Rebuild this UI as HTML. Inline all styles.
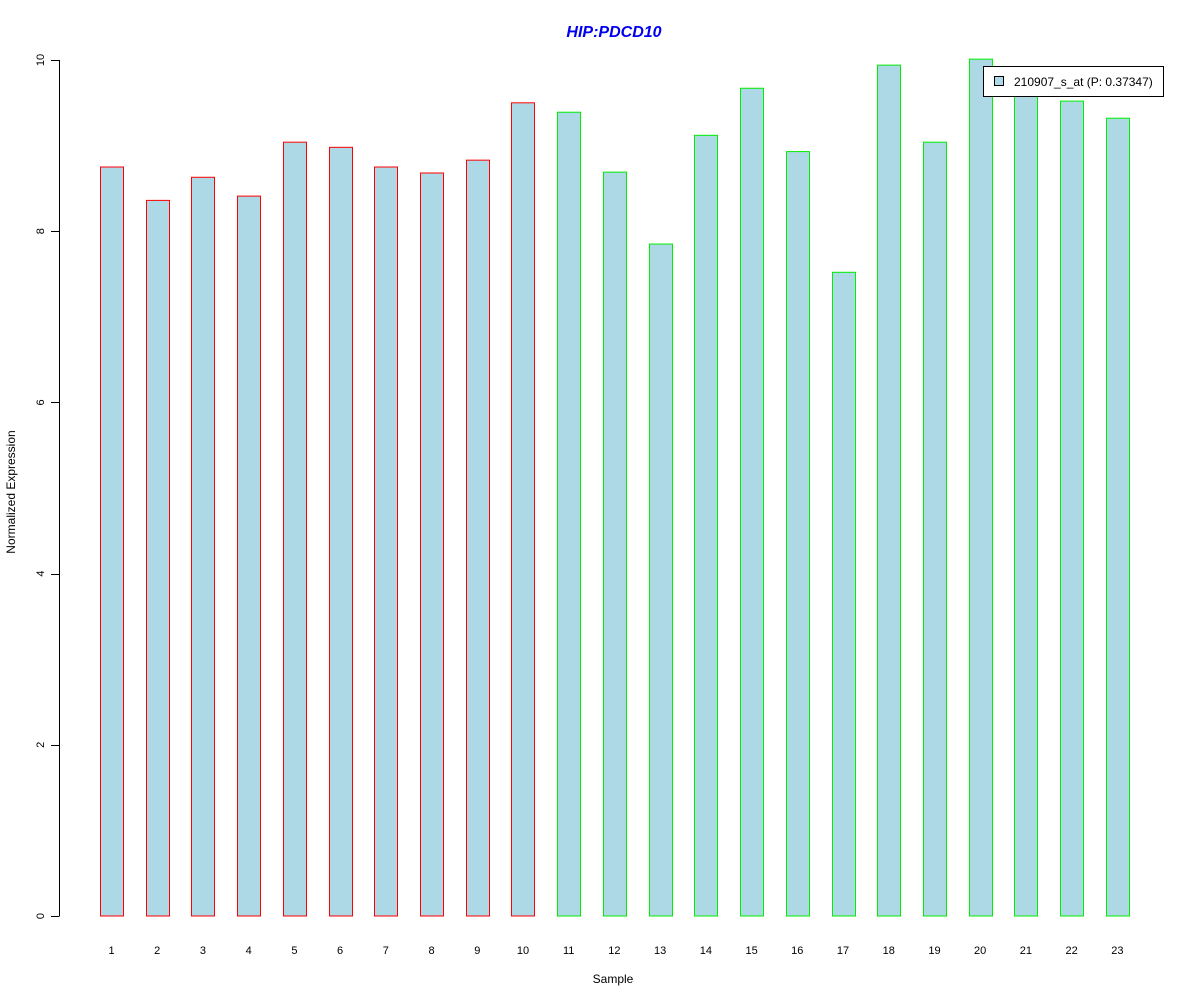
<!DOCTYPE html>
<html><head><meta charset="utf-8">
<style>
html,body{margin:0;padding:0;background:#fff;}
svg{display:block;font-family:"Liberation Sans",Arial,sans-serif;}
</style></head>
<body>
<svg id="chart" width="1200" height="1000" viewBox="0 0 1200 1000">
  <text x="614" y="37" text-anchor="middle" font-size="16" font-weight="bold" font-style="italic" fill="#0000ee">HIP:PDCD10</text>
  <g id="yaxis"></g>
  <g id="bars"></g>
  <g id="xlabels"></g>
  <text x="613" y="983" text-anchor="middle" font-size="12" fill="#000">Sample</text>
  <text transform="translate(15,492) rotate(-90)" text-anchor="middle" font-size="12" fill="#000">Normalized Expression</text>
  <g>
    <rect x="983.5" y="66.5" width="180" height="30" fill="#fff" stroke="#000"/>
    <rect x="994.5" y="76.5" width="9" height="9" fill="#add8e6" stroke="#000"/>
    <text x="1014" y="86" font-size="12" fill="#000">210907_s_at (P: 0.37347)</text>
  </g>
</svg>
<script>
const categories = ["1","2","3","4","5","6","7","8","9","10","11","12","13","14","15","16","17","18","19","20","21","22","23"];
const values = [8.75,8.36,8.63,8.41,9.04,8.98,8.75,8.68,8.83,9.50,9.39,8.69,7.85,9.12,9.67,8.93,7.52,9.94,9.04,10.01,9.70,9.52,9.32];
const groups = ["a","a","a","a","a","a","a","a","a","a","b","b","b","b","b","b","b","b","b","b","b","b","b"];
const yTicks = [0,2,4,6,8,10];

const NS = "http://www.w3.org/2000/svg";
const y = v => 916 - v * 85.6;
const xc = i => 111.5 + i * 45.72;
const bw = 23;
function mk(tag, attrs, parent) {
  const e = document.createElementNS(NS, tag);
  for (const k in attrs) e.setAttribute(k, attrs[k]);
  parent.appendChild(e);
  return e;
}
const ya = document.getElementById('yaxis');
const axl = mk('line', {x1: 59.5, x2: 59.5, y1: y(0), y2: y(10), stroke: '#000'}, ya);


yTicks.forEach(t => {
  const tl = mk('line', {x1: 51, x2: 59.5, y1: Math.round(y(t)) + 0.5, y2: Math.round(y(t)) + 0.5, stroke: '#000'}, ya);
  
  
  const tx = mk('text', {transform: `translate(44,${y(t)}) rotate(-90)`, 'text-anchor': 'middle', 'font-size': 11, fill: '#000'}, ya);
  
  
  tx.textContent = t;
});
const bg = document.getElementById('bars');
const xl = document.getElementById('xlabels');
values.forEach((v, i) => {
  const x0 = Math.round(xc(i) - bw / 2) + 0.5;
  const r = mk('rect', {x: x0, y: y(v), width: bw, height: y(0) - y(v), fill: '#add8e6', stroke: groups[i] === 'a' ? '#ff0000' : '#00ee00'}, bg);
  
  
  const t = mk('text', {x: xc(i), y: 954, 'text-anchor': 'middle', 'font-size': 11, fill: '#000'}, xl);
  
  
  t.textContent = categories[i];
});
</script>
</body></html>
